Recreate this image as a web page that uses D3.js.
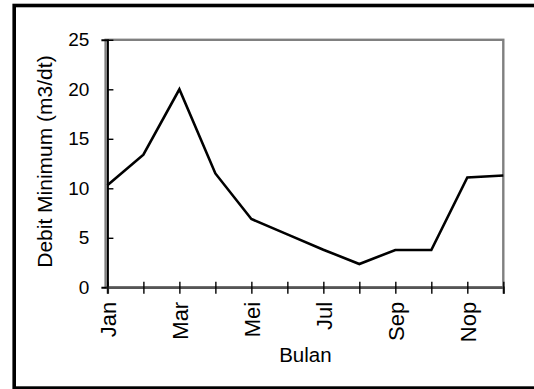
<!DOCTYPE html>
<html><head><meta charset="utf-8">
<script src="https://cdn.jsdelivr.net/npm/d3@7"></script>
<style>body{margin:0;background:#fff;} svg{display:block;}</style>
</head><body>
<svg id="c" width="534" height="389"></svg>
<script>
const months = ["Jan","Peb","Mar","Apr","Mei","Jun","Jul","Agu","Sep","Okt","Nop","Des"];
const debit = [10.3,13.4,20.0,11.5,6.9,5.35,3.8,2.35,3.77,3.77,11.1,11.3];
const yTicks = [0,5,10,15,20,25];
const xTitle = "Bulan";
const yTitle = "Debit Minimum (m3/dt)";

const svg = d3.select("#c");
const font = "'Liberation Sans', Arial, sans-serif";
const L = 107.4, R = 503.3, T = 39.8, B = 287.3;

const x = d3.scalePoint().domain(months).range([L, R]).padding(0);
const y = d3.scaleLinear().domain([0, 25]).range([B, T]);

// outer border
svg.append("rect").attr("x", 14.2).attr("y", 5.5).attr("width", 620).attr("height", 382.6)
  .attr("fill", "none").attr("stroke", "#000").attr("stroke-width", 3.6);

// plot area border
svg.append("rect").attr("x", L - 1.8).attr("y", T).attr("width", R - L + 1.8).attr("height", B - T)
  .attr("fill", "none").attr("stroke", "#808080").attr("stroke-width", 2.4);

// y axis
const yAxis = svg.append("g").attr("transform", `translate(${L},0)`)
  .call(d3.axisLeft(y).tickValues(yTicks).tickSize(6).tickPadding(12).tickFormat(d3.format("d")));
yAxis.select(".domain").attr("stroke", "#000").attr("stroke-width", 2);
yAxis.selectAll(".tick line").attr("x2", 6).attr("stroke", "#000").attr("stroke-width", 1.4);
yAxis.selectAll(".tick text").attr("font-family", font).attr("font-size", 19).attr("fill", "#000");

// x axis
const xAxis = svg.append("g").attr("transform", `translate(0,${B})`)
  .call(d3.axisBottom(x).tickSize(6.5).tickFormat((d, i) => i % 2 === 0 ? d : ""));
xAxis.select(".domain").attr("stroke", "#555").attr("stroke-width", 2.4);
xAxis.selectAll(".tick line").attr("y1", -5.5).attr("stroke", "#000").attr("stroke-width", 1.4);
xAxis.selectAll(".tick text")
  .attr("font-family", font).attr("font-size", 22).attr("fill", "#000")
  .attr("text-anchor", "end").attr("y", 0).attr("dy", "0.36em")
  .attr("transform", "translate(0,14.5) rotate(-90)");

// line
const line = d3.line().x((d, i) => x(months[i])).y(d => y(d));
svg.append("path").datum(debit).attr("d", line)
  .attr("fill", "none").attr("stroke", "#000").attr("stroke-width", 2.6).attr("stroke-linejoin", "miter");

// titles
svg.append("text").attr("x", (L + R) / 2).attr("y", 362.3).attr("text-anchor", "middle")
  .attr("font-family", font).attr("font-size", 20.5).attr("fill", "#000").text(xTitle);
svg.append("text").attr("transform", `translate(51.7,${(T + B) / 2 - 2}) rotate(-90)`)
  .attr("text-anchor", "middle").attr("font-family", font).attr("font-size", 21)
  .attr("fill", "#000").text(yTitle);
</script>
</body></html>
